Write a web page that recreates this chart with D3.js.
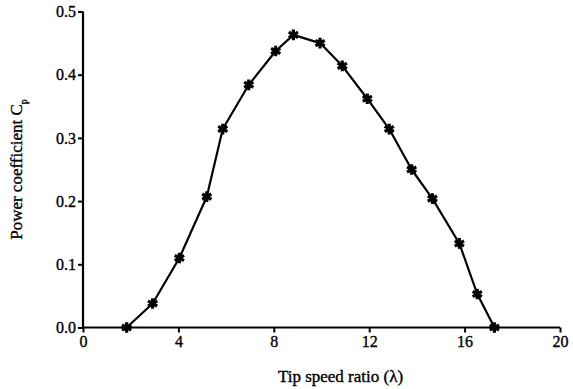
<!DOCTYPE html>
<html>
<head>
<meta charset="utf-8">
<script src="https://cdn.jsdelivr.net/npm/d3@7"></script>
<style>
  html, body { margin: 0; padding: 0; background: #fff; }
  svg { display: block; }
  text { font-family: "Liberation Serif", "Times New Roman", serif; fill: #000; stroke: #000; stroke-width: 0.35px; }
</style>
</head>
<body>
<svg id="chart" width="573" height="389"></svg>
<script>
const tsr = [1.83, 2.92, 4.04, 5.19, 5.86, 6.95, 8.08, 8.82, 9.94, 10.87, 11.92, 12.84, 13.78, 14.65, 15.78, 16.53, 17.25];
const cp  = [0.0, 0.038, 0.110, 0.207, 0.314, 0.384, 0.4375, 0.463, 0.450, 0.414, 0.362, 0.314, 0.250, 0.204, 0.133, 0.053, 0.0];
const xTicks = [0, 4, 8, 12, 16, 20];
const yTicks = [0.0, 0.1, 0.2, 0.3, 0.4, 0.5];
const xTitle = "Tip speed ratio (λ)";
const yTitle = "Power coefficient C";
const yTitleSub = "p";

const svg = d3.select("#chart");
const m = { left: 83, right: 13, top: 11.5, bottom: 61.5 };
const W = 573, H = 389;

const x = d3.scaleLinear().domain([0, 20]).range([m.left, W - m.right]);
const y = d3.scaleLinear().domain([0, 0.5]).range([H - m.bottom, m.top]);

const xAxis = d3.axisBottom(x).tickValues(xTicks).tickSize(5).tickPadding(3).tickFormat(d3.format("d"));
const yAxis = d3.axisLeft(y).tickValues(yTicks).tickSize(5).tickPadding(2).tickFormat(d3.format(".1f"));

const gx = svg.append("g").attr("transform", `translate(0,${y(0)})`).call(xAxis);
const gy = svg.append("g").attr("transform", `translate(${x(0)},0)`).call(yAxis);

[gx, gy].forEach(g => {
  g.select(".domain").attr("stroke", "#000").attr("stroke-width", 2.2);
  g.selectAll(".tick line").attr("stroke", "#000").attr("stroke-width", 2);
  g.selectAll(".tick text").attr("font-size", 16).attr("font-family", "Liberation Serif, serif").attr("fill", "#000");
});
gx.select(".domain").attr("d", `M${x(0)},0H${x(20)}`);
gy.select(".domain").attr("d", `M0,${y(0)}V${y(0.5)}`);

const data = tsr.map((d, i) => ({ x: d, y: cp[i] }));

const line = d3.line().x(d => x(d.x)).y(d => y(d.y)).curve(d3.curveLinear);
svg.append("path").datum(data)
  .attr("d", line)
  .attr("fill", "none")
  .attr("stroke", "#000")
  .attr("stroke-width", 2.2)
  .attr("stroke-linejoin", "round");

const sym = d3.symbol().type(d3.symbolAsterisk).size(80);
svg.append("g").selectAll("path.m").data(data).join("path")
  .attr("class", "m")
  .attr("transform", d => `translate(${x(d.x)},${y(d.y)})`)
  .attr("d", sym)
  .attr("fill", "none")
  .attr("stroke", "#000")
  .attr("stroke-width", 3.2);
svg.append("g").selectAll("circle").data(data).join("circle")
  .attr("cx", d => x(d.x)).attr("cy", d => y(d.y)).attr("r", 3).attr("fill", "#000");

svg.append("text")
  .attr("x", (x(0) + x(20)) / 2 + 19)
  .attr("y", 382)
  .attr("text-anchor", "middle")
  .attr("font-size", 17)
  .text(xTitle);

const yt = svg.append("text")
  .attr("transform", `translate(22,${(y(0) + y(0.5)) / 2}) rotate(-90)`)
  .attr("text-anchor", "middle")
  .attr("font-size", 17);
yt.append("tspan").text(yTitle);
yt.append("tspan").attr("font-size", 10).attr("dy", 5).text(yTitleSub);
</script>
</body>
</html>
